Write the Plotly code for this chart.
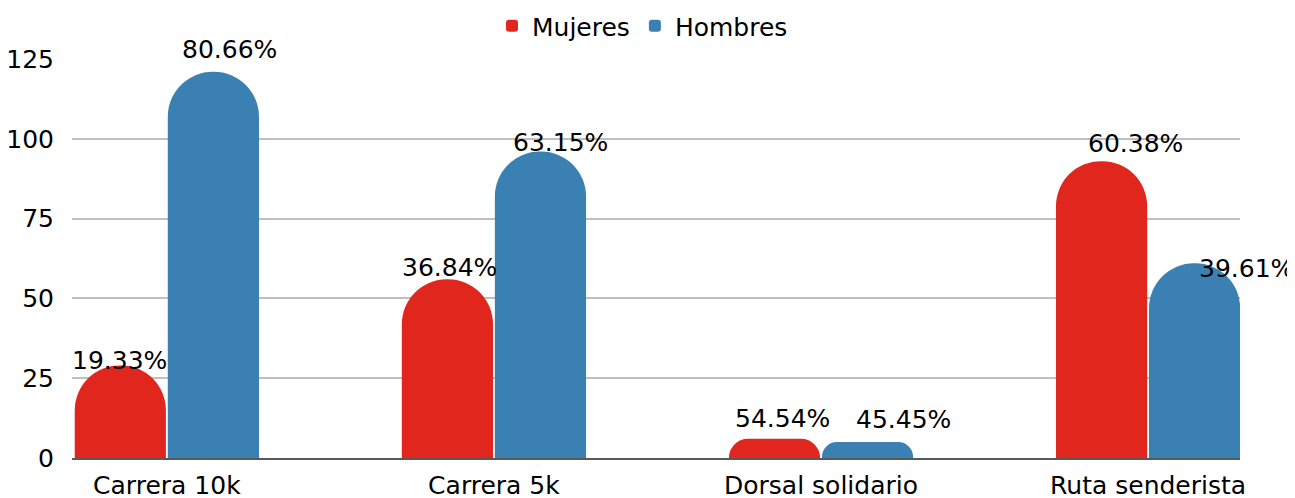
import plotly.graph_objects as go

categories = ["Carrera 10k", "Carrera 5k", "Dorsal solidario", "Ruta senderista"]
mujeres = [29, 56, 6, 93]
hombres = [121, 96, 5, 61]
mujeres_pct = ["19.33%", "36.84%", "54.54%", "60.38%"]
hombres_pct = ["80.66%", "63.15%", "45.45%", "39.61%"]

RED = "#E1271D"
BLUE = "#3A80B2"
FONT = "DejaVu Sans"
FS = 25

fig = go.Figure()
fig.add_trace(go.Bar(name="Mujeres", x=categories, y=mujeres, marker=dict(color=RED, line=dict(width=0))))
fig.add_trace(go.Bar(name="Hombres", x=categories, y=hombres, marker=dict(color=BLUE, line=dict(width=0))))

# label offsets (px) relative to category center / bar top
m_shift = [(-47, 5), (-44, 12), (-39, 20), (-13, 18)]
h_shift = [(63, 22), (67, 9), (82, 23), (98, -5)]
anns = []
for c, v, t, (dx, dy) in zip(categories, mujeres, mujeres_pct, m_shift):
    anns.append(dict(x=c, y=v, text=t, xref="x", yref="y", showarrow=False,
                     xshift=dx, yshift=dy, yanchor="middle", xanchor="center",
                     font=dict(family=FONT, size=FS, color="#000000")))
for c, v, t, (dx, dy) in zip(categories, hombres, hombres_pct, h_shift):
    anns.append(dict(x=c, y=v, text=t, xref="x", yref="y", showarrow=False,
                     xshift=dx, yshift=dy, yanchor="middle", xanchor="center",
                     font=dict(family=FONT, size=FS, color="#000000")))

W, H = 1287, 490  # page body has an 8px margin
fig.update_layout(
    width=W, height=H,
    margin=dict(l=64, r=55, t=51, b=40, autoexpand=False),
    paper_bgcolor="white", plot_bgcolor="white",
    font=dict(family=FONT, size=FS, color="#000000"),
    barmode="group", bargap=0.431, bargroupgap=0.02,
    barcornerradius=46,
    showlegend=True,
    legend=dict(orientation="h", x=0.493, xanchor="center", xref="container",
                y=1 - 18 / H, yanchor="middle", yref="container",
                font=dict(size=FS), itemwidth=30),
    annotations=anns,
    xaxis=dict(type="category", range=[-0.29, 3.281], showgrid=False, automargin=False,
               showline=True, linecolor="#595959", linewidth=1.5, ticks="",
               tickfont=dict(size=FS), ticklabelstandoff=4),
    yaxis=dict(range=[0, 125], tickvals=[0, 25, 50, 75, 100, 125], showgrid=True,
               automargin=False,
               gridcolor="#BFBFBF", gridwidth=1.5, zeroline=False, showline=False,
               ticks="", tickfont=dict(size=FS), ticklabelstandoff=17),
)

fig.write_html("out.html")
